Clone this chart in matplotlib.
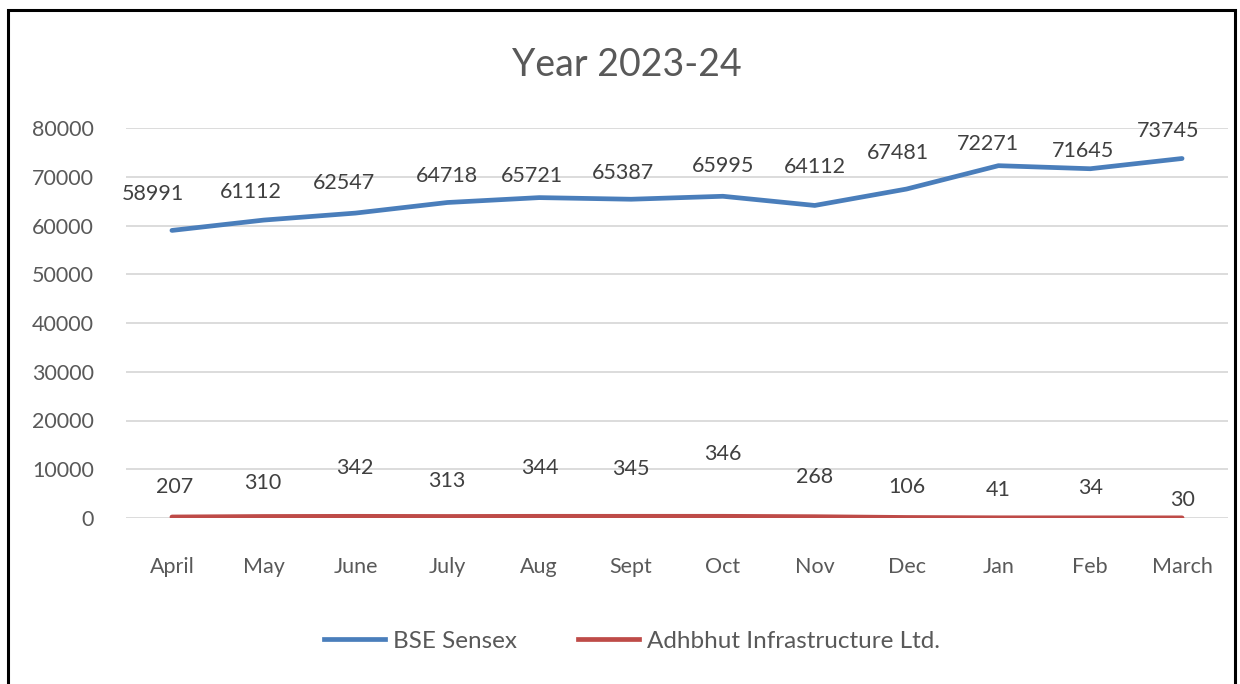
import matplotlib
matplotlib.use("Agg")
import matplotlib.pyplot as plt
from matplotlib.patches import Rectangle
from matplotlib.lines import Line2D

months = ["April", "May", "June", "July", "Aug", "Sept", "Oct", "Nov", "Dec", "Jan", "Feb", "March"]
bse_sensex = [58991, 61112, 62547, 64718, 65721, 65387, 65995, 64112, 67481, 72271, 71645, 73745]
adhbhut = [207, 310, 342, 313, 344, 345, 346, 268, 106, 41, 34, 30]
yticks = [0, 10000, 20000, 30000, 40000, 50000, 60000, 70000, 80000]

# label offsets (pixels) mimicking the manually placed Excel labels
bse_dx = [-19, -13, -12, 0, -7, -8, 0, 0, -9, -10, -7, -14]
bse_dy = [36, 28, 30, 26, 22, 26, 30, 38, 36, 22, 18, 27]
adh_dx = [3, -1, -1, -1, 1, 0, 0, 0, 0, 0, 0, 0]
adh_dy = [30, 33, 48, 35, 48, 47, 62, 40, 30, 28, 30, 18]

plt.rcParams['font.family'] = ['Lato', 'DejaVu Sans']
txt = "#404040"
tick_c = "#595959"

fig = plt.figure(figsize=(12.4, 6.84), dpi=100)
ax = fig.add_axes([126/1240, 1-518/684, 1102/1240, 390/684])

x = list(range(len(months)))
blue = "#4A7EBB"
red = "#BE4B48"
ax.plot(x, bse_sensex, color=blue, lw=3.4, solid_capstyle='round', zorder=3)
ax.plot(x, adhbhut, color=red, lw=3.4, solid_capstyle='round', zorder=3)

for i, v in enumerate(bse_sensex):
    ax.annotate(str(v), (i, v), xytext=(bse_dx[i], bse_dy[i]), textcoords='offset pixels',
                ha='center', va='center', fontsize=15.5, color=txt)
for i, v in enumerate(adhbhut):
    ax.annotate(str(v), (i, v), xytext=(adh_dx[i], adh_dy[i]), textcoords='offset pixels',
                ha='center', va='center', fontsize=15.5, color=txt)

ax.set_xlim(-0.5, len(months) - 0.5)
ax.set_ylim(0, 80000)
ax.set_yticks(yticks)
ax.set_yticklabels([str(t) for t in yticks])
ax.set_xticks(x)
ax.set_xticklabels(months)
ax.tick_params(axis='both', length=0, labelsize=15.5, labelcolor=tick_c)
ax.tick_params(axis='y', pad=23)
ax.tick_params(axis='x', pad=28)
ax.grid(axis='y', color='#D9D9D9', lw=1.3)
ax.set_axisbelow(True)
for s in ax.spines.values():
    s.set_visible(False)

fig.text(627/1240, 1-65/684, "Year 2023-24", ha='center', va='center', fontsize=27, color=tick_c)

handles = [Line2D([], [], color=blue, lw=3.4), Line2D([], [], color=red, lw=3.4)]
fig.legend(handles, ["BSE Sensex", "Adhbhut Infrastructure Ltd."], loc='center',
           bbox_to_anchor=(632/1240, 1-641/684), ncol=2, frameon=False, fontsize=17.5,
           labelcolor=tick_c, handlelength=2.5, handletextpad=0.35, columnspacing=2.5)

fig.patches.append(Rectangle((8/1240, -0.05), 1227/1240, 1-10/684 + 0.05, transform=fig.transFigure,
                             fill=False, edgecolor='black', lw=2.2))

fig.savefig("out.png", dpi=100)
